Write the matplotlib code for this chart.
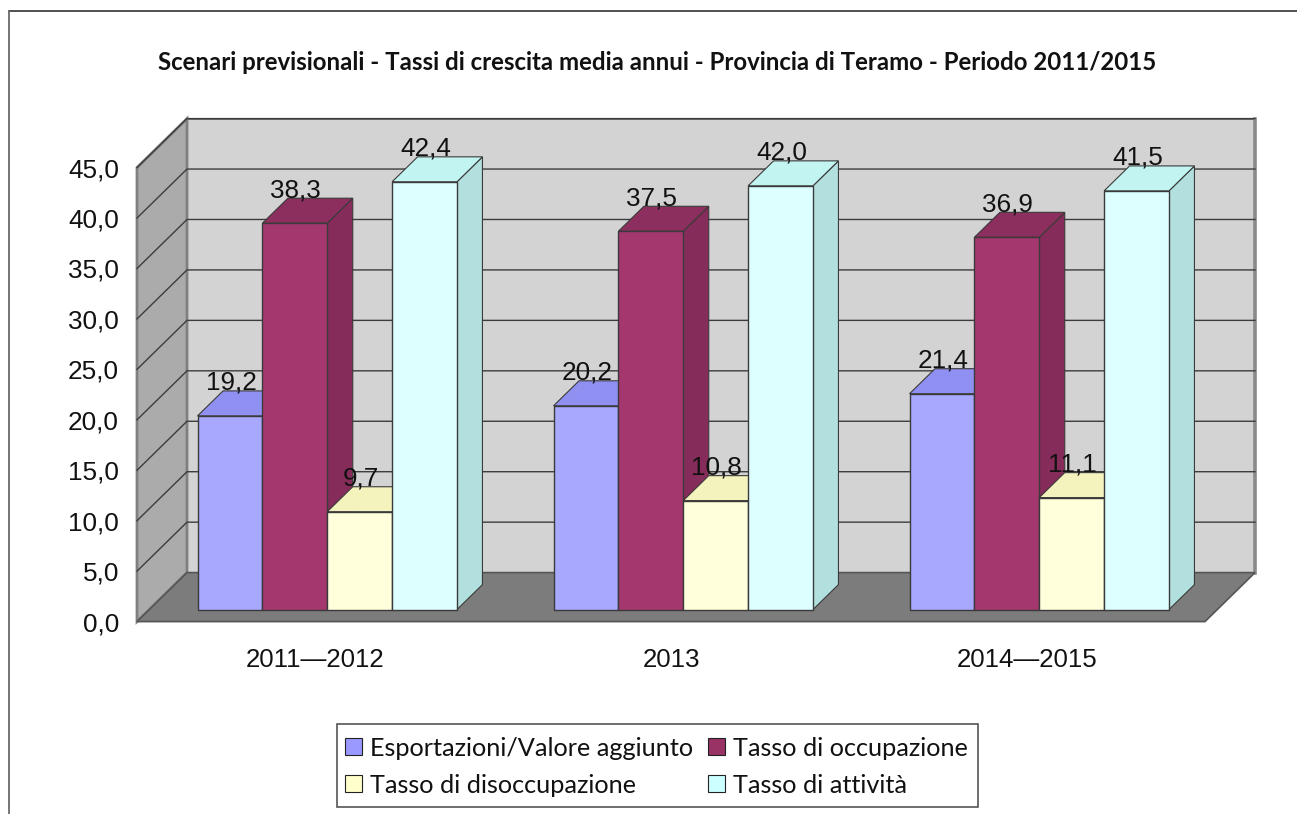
import matplotlib
matplotlib.use("Agg")
import matplotlib.pyplot as plt
from matplotlib.lines import Line2D
from matplotlib.patches import Polygon, Patch, Rectangle
from matplotlib.ticker import FuncFormatter

categories = ["2011—2012", "2013", "2014—2015"]
esportazioni = [19.2, 20.2, 21.4]
occupazione = [38.3, 37.5, 36.9]
disoccupazione = [9.7, 10.8, 11.1]
attivita = [42.4, 42.0, 41.5]
series_names = ["Esportazioni/Valore aggiunto", "Tasso di occupazione",
                "Tasso di disoccupazione", "Tasso di attività"]
y_ticks = [0, 5, 10, 15, 20, 25, 30, 35, 40, 45]
title = "Scenari previsionali - Tassi di crescita media annui - Provincia di Teramo - Periodo 2011/2015"

W, H = 1297, 814
fig = plt.figure(figsize=(W / 100, H / 100), dpi=100, facecolor="white")
L, R, T, B = 137, 1205, 167.6, 621.6
ax = fig.add_axes([L / W, 1 - B / H, (R - L) / W, (B - T) / H])
ax.set_xlim(-0.5, 2.5)
ax.set_ylim(0, 45)
ax.patch.set_alpha(0)
for s in ax.spines.values():
    s.set_visible(False)

px_x = 3 / (R - L)
px_y = 45 / (B - T)
DX = 50 * px_x
DY = 49 * px_y
D0, D1 = 0.245, 0.755
BAR = 64.85 * px_x


def P(x, y, d):
    return (x + d * DX, y + d * DY)


xl, xr = -0.5, 2.5
top = y_ticks[-1]
# walls and floor
ax.add_patch(Polygon([P(xl, 0, 1), P(xr, 0, 1), P(xr, top, 1), P(xl, top, 1)], closed=True,
                     fc="#D3D3D3", ec="#6E6E6E", lw=1.4, clip_on=False, zorder=1))
ax.plot(*zip(P(xr, 0, 1), P(xr, top, 1)), color="#8A8A8A", lw=2.6, clip_on=False, zorder=1.2)
ax.add_patch(Polygon([P(xl, 0, 0), P(xl, 0, 1), P(xl, top, 1), P(xl, top, 0)], closed=True,
                     fc="#ABABAB", ec="#808080", lw=2, clip_on=False, zorder=1.1))
ax.add_patch(Polygon([P(xl, 0, 0), P(xr, 0, 0), P(xr, 0, 1), P(xl, 0, 1)], closed=True,
                     fc="#7C7C7C", ec="#555555", lw=1.2, clip_on=False, zorder=1.3))
for t in y_ticks[1:]:
    ax.plot(*zip(P(xl, t, 0), P(xl, t, 1), P(xr, t, 1)), color="#3C3C3C", lw=1.0,
            clip_on=False, zorder=1.25, solid_joinstyle="miter")

values = [esportazioni, occupazione, disoccupazione, attivita]
front = ["#A8A8FF", "#A5376F", "#FFFFDC", "#DDFFFF"]
top_c = ["#9090F2", "#8C2F5E", "#F4F3BE", "#C2F5F2"]
side = ["#7F7FD0", "#862C5A", "#D5D5B0", "#B2E0DE"]
edge = "#3A3A3A"

z = 2.0
for c, cx in enumerate(range(len(categories))):
    for k, vals in enumerate(values):
        v = vals[c]
        x0 = cx + (k - 2) * BAR
        x1 = x0 + BAR
        ax.add_patch(Polygon([P(x1, 0, D0), P(x1, 0, D1), P(x1, v, D1), P(x1, v, D0)], closed=True,
                             fc=side[k], ec=edge, lw=0.8, clip_on=False, zorder=z))
        ax.add_patch(Polygon([P(x0, v, D0), P(x1, v, D0), P(x1, v, D1), P(x0, v, D1)], closed=True,
                             fc=top_c[k], ec=edge, lw=0.8, clip_on=False, zorder=z + 0.1))
        ax.bar(x0 + D0 * DX, v, width=BAR, bottom=D0 * DY, align="edge", color=front[k],
               edgecolor=edge, linewidth=1.0, clip_on=False, zorder=z + 0.2)
        z += 0.3

for c in range(len(categories)):
    for k, vals in enumerate(values):
        v = vals[c]
        xc = c + (k - 1.5) * BAR + D0 * DX
        ax.annotate(f"{v:.1f}".replace(".", ","), xy=(xc, v + D0 * DY), xytext=(0.7, 25.6),
                    textcoords="offset points", ha="center", va="center_baseline",
                    fontsize=18.8, family="Liberation Sans", color="#111111", zorder=50,
                    annotation_clip=False)

ax.set_yticks(y_ticks)
ax.yaxis.set_major_formatter(FuncFormatter(lambda v, _: f"{v:.1f}".replace(".", ",")))
ax.set_xticks(range(len(categories)), categories)
ax.tick_params(axis="y", length=0, pad=13, labelsize=18.8, labelcolor="#111111")
ax.tick_params(axis="x", length=0, pad=18.8, labelsize=18.6, labelcolor="#111111")
for lab in ax.get_xticklabels() + ax.get_yticklabels():
    lab.set_family("Liberation Sans")

fig.text(657 / W, 1 - 62 / H, title, ha="center", va="center", fontsize=17.25,
         fontweight="bold", family="Lato", color="#111111")

# outer border (top and left only are visible in the reference)
fig.add_artist(Line2D([9 / W, 1], [1 - 10.5 / H, 1 - 10.5 / H], color="#222222", lw=1.1))
fig.add_artist(Line2D([9 / W, 9 / W], [0, 1 - 10.5 / H], color="#6A6A6A", lw=1.3))

# legend frame, taller than the legend's own padding would give
fig.add_artist(Rectangle((337 / W, 1 - 807 / H), 641 / W, 83 / H, transform=fig.transFigure,
                         fc="white", ec="#555555", lw=1.2, zorder=3))
legend_colors = ["#9999FF", "#993366", "#FFFFCC", "#CCFFFF"]
order = [0, 2, 1, 3]
handles = [Patch(fc=legend_colors[i], ec="#222222", lw=0.8) for i in order]
labels = [series_names[i] for i in order]
leg = fig.legend(handles, labels, ncol=2, loc="lower left",
                 bbox_to_anchor=(337 / W, 1 - 805 / H), bbox_transform=fig.transFigure,
                 borderaxespad=0, borderpad=0.33, labelspacing=0.55,
                 handlelength=0.65, handleheight=0.65, handletextpad=0.32, columnspacing=0.6,
                 frameon=False, prop={"family": "Lato", "size": 18.2})
leg.set_zorder(4)
for t in leg.get_texts():
    t.set_color("#111111")

fig.savefig("out.png", dpi=100, facecolor="white")
